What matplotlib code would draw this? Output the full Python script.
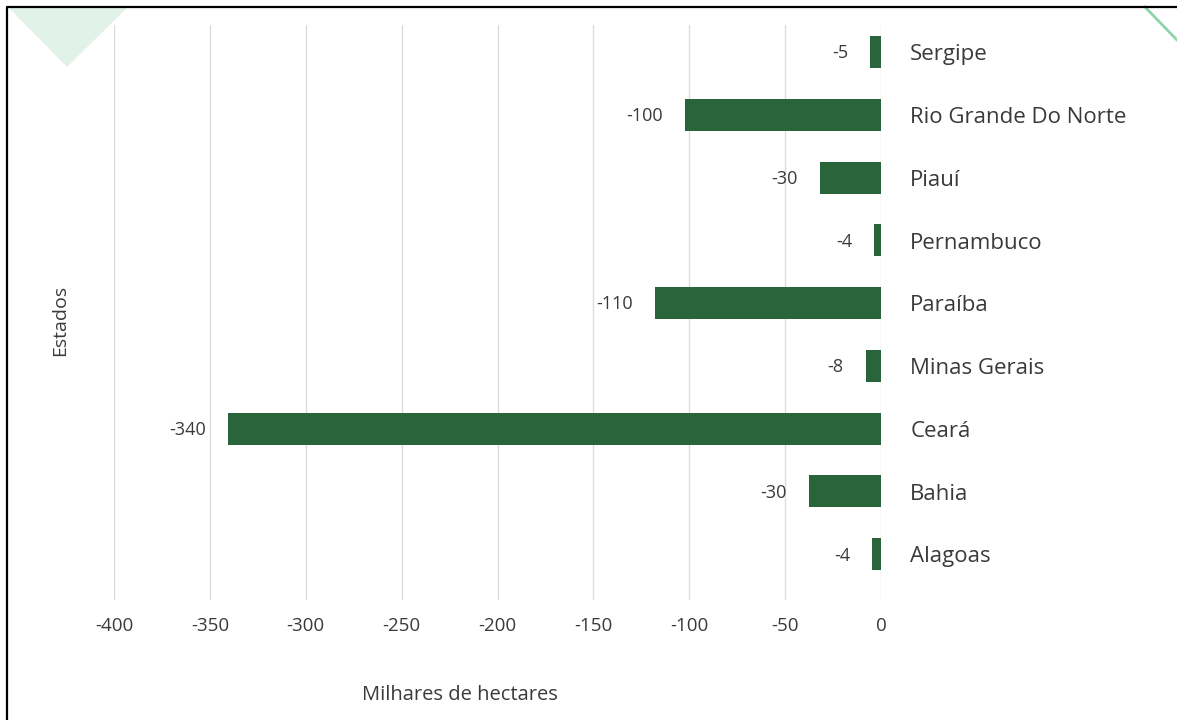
import matplotlib.pyplot as plt
from matplotlib.patches import Polygon
from matplotlib.lines import Line2D

plt.rcParams['font.family'] = ['Open Sans', 'DejaVu Sans']

# data (bottom to top)
estados = ['Alagoas', 'Bahia', 'Ceará', 'Minas Gerais', 'Paraíba',
           'Pernambuco', 'Piauí', 'Rio Grande Do Norte', 'Sergipe']
valores = [-4.5, -37.5, -340.5, -8, -118, -3.5, -32, -102, -5.5]
rotulos = ['-4', '-30', '-340', '-8', '-110', '-4', '-30', '-100', '-5']
xticks = [-400, -350, -300, -250, -200, -150, -100, -50, 0]

verde = '#29643a'
texto = '#3a3a3a'

fig = plt.figure(figsize=(11.77, 7.2), dpi=100)
ax = fig.add_axes([114 / 1177, 1 - 600 / 720, 767 / 1177, 575 / 720])

pos = list(range(len(estados)))
ax.barh(pos, valores, height=0.51, color=verde, zorder=3)

ax.set_xlim(-400, 0)
ax.set_ylim(-0.73, 8.43)
ax.set_xticks(xticks)
ax.set_xticklabels([str(t) for t in xticks])
ax.set_yticks([])
ax.tick_params(axis='x', length=0, pad=12, labelsize=13.5, labelcolor=texto)
ax.grid(axis='x', color='#dcdcdc', linewidth=1, zorder=0)
for s in ax.spines.values():
    s.set_visible(False)

for p, v, r, e in zip(pos, valores, rotulos, estados):
    ax.annotate(r, (v, p), xytext=(-16, -1), textcoords='offset points',
                ha='right', va='center', fontsize=13, color=texto)
    ax.annotate(e, (0, p), xytext=(21, -2), textcoords='offset points',
                ha='left', va='center', fontsize=16, color=texto)

fig.text(460 / 1177, 1 - 695 / 720, 'Milhares de hectares', ha='center', va='center',
         fontsize=14.5, color=texto)
fig.text(60 / 1177, 1 - 320 / 720, 'Estados', ha='center', va='center',
         rotation=90, fontsize=14, color=texto)

# decoracao
W, H = 1177, 720
tri = Polygon([(8 / W, 1 - 7 / H), (128 / W, 1 - 7 / H), (67 / W, 1 - 67 / H)],
              closed=True, transform=fig.transFigure, facecolor='#e1f3e9',
              edgecolor='none', zorder=0)
fig.patches.append(tri)
fig.lines.append(Line2D([1145 / W, 1177 / W], [1 - 7 / H, 1 - 40 / H],
                        transform=fig.transFigure, color='#8fd3a9', linewidth=2))
fig.lines.append(Line2D([7 / W, 7 / W, 1], [0, 1 - 7 / H, 1 - 7 / H],
                        transform=fig.transFigure, color='black', linewidth=1.6))

fig.savefig('out.png', dpi=100)
